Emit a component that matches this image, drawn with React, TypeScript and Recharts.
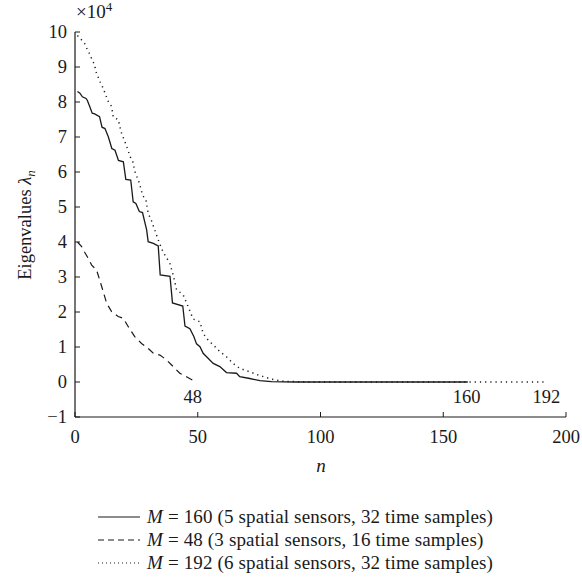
import { LineChart, Line, XAxis, YAxis, ReferenceDot } from "recharts";

// M = 160 (solid)
const solidN = [1, 2, 3, 4.5, 5, 6, 7, 8, 10, 11, 12.2, 13.6, 15, 16.3, 17.7, 19.7, 20.7, 22.7, 23.7, 24.8, 26.2, 27.5, 29.2, 29.8, 31.9, 33.9, 34.7, 38.7, 39.7, 43.9, 44.8, 46.8, 48.4, 49.5, 50.9, 52.2, 54.2, 56.3, 59, 61.7, 65.8, 67.1, 71.2, 75.3, 80, 90, 160];
const solidV = [8.3, 8.25, 8.15, 8.1, 8.05, 7.87, 7.68, 7.66, 7.58, 7.28, 7.24, 7.0, 6.67, 6.62, 6.33, 6.29, 5.79, 5.77, 5.15, 5.1, 4.87, 4.84, 4.34, 4.01, 3.96, 3.89, 3.06, 3.02, 2.26, 2.17, 1.6, 1.52, 1.3, 1.09, 1.01, 0.82, 0.68, 0.53, 0.44, 0.27, 0.25, 0.15, 0.1, 0.04, 0.01, 0, 0];

// M = 48 (dashed)
const dashN = [1, 2.7, 4, 5.4, 6.8, 8.8, 10.9, 12.9, 14.9, 17.6, 19.7, 21.7, 24.4, 27.1, 29.8, 31.9, 34.6, 37.3, 40, 42.7, 45.4, 48];
const dashV = [4.0, 3.87, 3.7, 3.53, 3.34, 3.2, 2.72, 2.25, 2.01, 1.87, 1.82, 1.58, 1.29, 1.1, 0.96, 0.82, 0.77, 0.63, 0.44, 0.25, 0.15, 0.05];

// M = 192 (dotted)
const dotN = [1, 2.7, 4, 5, 6, 7, 8, 8.5, 10.2, 11.5, 12.5, 13.6, 14.9, 15.6, 17.6, 18.3, 19, 20.3, 21.3, 22.7, 23.5, 24.4, 26.2, 27.5, 28.9, 29.8, 31.2, 32.5, 33.9, 35.3, 36.6, 38.6, 40, 41.4, 44, 46.1, 48.1, 50.9, 52.2, 54.2, 57, 59, 61.7, 64.4, 67.1, 71.2, 74.6, 80, 85, 95, 192];
const dotV = [9.9, 9.77, 9.66, 9.5, 9.37, 9.2, 9.06, 8.87, 8.58, 8.39, 8.2, 8.01, 7.87, 7.56, 7.5, 7.29, 7.1, 6.87, 6.68, 6.4, 6.3, 6.01, 5.69, 5.34, 5.2, 4.82, 4.6, 4.34, 4.06, 3.8, 3.63, 3.4, 3.05, 2.63, 2.5, 2.15, 1.8, 1.72, 1.39, 1.2, 1.01, 0.87, 0.72, 0.53, 0.39, 0.29, 0.2, 0.08, 0.02, 0, 0];

const xTicks = [0, 50, 100, 150, 200];
const yTicks = [-1, 0, 1, 2, 3, 4, 5, 6, 7, 8, 9, 10];
const endLabels = [
  { n: 48, text: "48" },
  { n: 159.5, text: "160" },
  { n: 192, text: "192" },
];
const legendItems = [
  { m: "160", desc: " (5 spatial sensors, 32 time samples)", dash: undefined },
  { m: "48", desc: " (3 spatial sensors, 16 time samples)", dash: "6 4" },
  { m: "192", desc: " (6 spatial sensors, 32 time samples)", dash: "1 3" },
];

const toRows = (ns: number[], vs: number[]) => ns.map((n, i) => ({ n, v: vs[i] }));
const solidData = toRows(solidN, solidV);
const dashData = toRows(dashN, dashV);
const dotData = toRows(dotN, dotV);

const FONT = "'Liberation Serif', 'DejaVu Serif', serif";
const INK = "#1a1a1a";

const XTick = (props: any) => {
  const { x, y, payload } = props;
  return (
    <g>
      <line x1={x} y1={y} x2={x} y2={y - 5} stroke={INK} strokeWidth={1} />
      <text x={x} y={y + 26} textAnchor="middle" fontSize={18.5} fontFamily={FONT} fill={INK}>
        {payload.value}
      </text>
    </g>
  );
};

const YTick = (props: any) => {
  const { x, y, payload } = props;
  const label = String(payload.value).replace("-", "\u2212");
  return (
    <g>
      <line x1={x} y1={y} x2={x + 5} y2={y} stroke={INK} strokeWidth={1} />
      <text x={x - 8} y={y + 6} textAnchor="end" fontSize={18.5} fontFamily={FONT} fill={INK}>
        {label}
      </text>
    </g>
  );
};

export default function App() {
  return (
    <div style={{ position: "absolute", left: 0, top: 0, width: 582, height: 583, background: "#fff", fontFamily: FONT }}>
      <LineChart width={582} height={583} margin={{ top: 32, right: 16, bottom: 136, left: 0 }}>
        <XAxis
          type="number"
          dataKey="n"
          domain={[0, 200]}
          ticks={xTicks}
          height={30}
          tickSize={0}
          tickMargin={0}
          tick={<XTick />}
          axisLine={{ stroke: INK, strokeWidth: 1.2 }}
          tickLine={false}
          allowDataOverflow
        />
        <YAxis
          type="number"
          dataKey="v"
          domain={[-1, 10]}
          ticks={yTicks}
          width={75}
          tickSize={0}
          tickMargin={0}
          tick={<YTick />}
          axisLine={{ stroke: INK, strokeWidth: 1.2 }}
          tickLine={false}
          interval={0}
          allowDataOverflow
        />
        <Line data={solidData} dataKey="v" type="linear" stroke={INK} strokeWidth={1.3} dot={false} isAnimationActive={false} />
        <Line data={dashData} dataKey="v" type="linear" stroke={INK} strokeWidth={1.2} strokeDasharray="7 5" dot={false} isAnimationActive={false} />
        <Line data={dotData} dataKey="v" type="linear" stroke={INK} strokeWidth={1.5} strokeDasharray="1.2 4" dot={false} isAnimationActive={false} />
        {endLabels.map((e) => (
          <ReferenceDot
            key={e.text}
            x={e.n}
            y={0}
            r={0}
            stroke="none"
            fill="none"
            label={{ value: e.text, position: "bottom", offset: 8, fontSize: 18.5, fontFamily: FONT, fill: INK }}
          />
        ))}
      </LineChart>

      <div style={{ position: "absolute", left: 76, top: -1, fontSize: 19, color: INK }}>
        ×10<sup style={{ fontSize: 13 }}>4</sup>
      </div>

      <div
        style={{
          position: "absolute",
          left: 27,
          top: 225,
          transform: "translate(-50%, -50%) rotate(-90deg)",
          whiteSpace: "nowrap",
          fontSize: 18.5,
          color: INK,
        }}
      >
        Eigenvalues <i>λ</i><sub style={{ fontSize: 13 }}><i>n</i></sub>
      </div>

      <div style={{ position: "absolute", left: 321, top: 466, transform: "translate(-50%, -50%)", fontSize: 19, fontStyle: "italic", color: INK }}>
        n
      </div>

      <div style={{ position: "absolute", left: 98, top: 505, fontSize: 19, letterSpacing: 0.15, color: INK }}>
        {legendItems.map((it) => (
          <div key={it.m} style={{ display: "flex", alignItems: "center", height: 23, whiteSpace: "nowrap" }}>
            <svg width={42} height={10} style={{ marginRight: 7 }}>
              <line x1={0} y1={5} x2={42} y2={5} stroke={INK} strokeWidth={1.2} strokeDasharray={it.dash} />
            </svg>
            <span>
              <i>M</i> = {it.m}
              {it.desc}
            </span>
          </div>
        ))}
      </div>
    </div>
  );
}
